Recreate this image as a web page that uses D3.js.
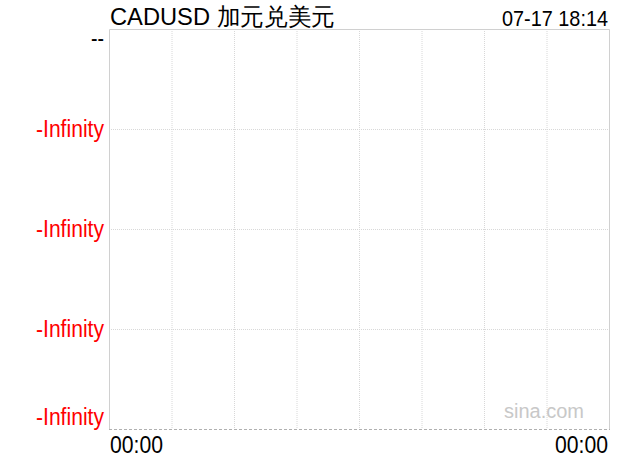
<!DOCTYPE html>
<html><head><meta charset="utf-8">
<script src="https://cdn.jsdelivr.net/npm/d3@7/dist/d3.min.js"></script>
<style>body{margin:0;background:#fff}svg{display:block}</style>
</head><body>
<svg id="c" width="620" height="460"></svg>
<script>
const title = "CADUSD 加元兑美元";
const timestamp = "07-17 18:14";
const xTickLabels = ["00:00", "00:00"];
const yTickLabels = ["--", "-Infinity", "-Infinity", "-Infinity", "-Infinity"];
const yTickColors = ["#000", "#f00", "#f00", "#f00", "#f00"];
const prices = [];
const xDivisions = d3.range(0, 9);
const yDivisions = d3.range(0, 5);

const svg = d3.select("#c");
const L = 109, R = 609, T = 29, B = 429;
const x = d3.scaleLinear().domain([0, 8]).range([L, R]);
const y = d3.scaleLinear().domain([0, 4]).range([T, B]);
const font = "'Liberation Sans',Arial,sans-serif";

// grid
svg.append("g").selectAll("line").data(xDivisions.slice(1, -1)).join("line")
  .attr("x1", d => x(d) + 0.5).attr("x2", d => x(d) + 0.5)
  .attr("y1", T).attr("y2", B)
  .attr("stroke", "#d8d8d8").attr("stroke-dasharray", "1,1");
svg.append("g").selectAll("line").data(yDivisions.slice(1, -1)).join("line")
  .attr("y1", d => y(d) + 0.5).attr("y2", d => y(d) + 0.5)
  .attr("x1", L).attr("x2", R)
  .attr("stroke", "#d8d8d8").attr("stroke-dasharray", "1,1");
// border
svg.append("path").attr("d", `M${L+0.5},${B}V${T+0.5}H${R+0.5}V${B}`)
  .attr("fill", "none").attr("stroke", "#d0d0d0");
svg.append("line").attr("x1", L).attr("x2", R + 1).attr("y1", B + 0.5).attr("y2", B + 0.5)
  .attr("stroke", "#b0b0b0").attr("stroke-dasharray", "3,2");

// watermark
svg.append("text").attr("x", 584).attr("y", 418).attr("text-anchor", "end")
  .attr("font-family", font).attr("font-size", 20)
  .attr("fill", "#c8c8c8").text("sina.com");

// y labels
const yOff = [17, 8, 8, 8, -4];
const yLen = [13, 68, 68, 68, 68];
svg.append("g").selectAll("text").data(yTickLabels).join("text")
  .attr("x", 104).attr("y", (d, i) => y(i) + yOff[i])
  .attr("text-anchor", "end").attr("font-family", font).attr("font-size", 23)
  .attr("textLength", (d, i) => yLen[i]).attr("lengthAdjust", "spacingAndGlyphs")
  .attr("fill", (d, i) => yTickColors[i]).text(d => d);

// x labels
svg.append("g").selectAll("text").data(xTickLabels).join("text")
  .attr("x", (d, i) => i === 0 ? x(0) + 1 : x(8) - 1)
  .attr("y", 453)
  .attr("text-anchor", (d, i) => i === 0 ? "start" : "end")
  .attr("textLength", 53).attr("lengthAdjust", "spacingAndGlyphs")
  .attr("font-family", font).attr("font-size", 23).text(d => d);

// line (empty data)
svg.append("path").datum(prices).attr("fill", "none").attr("stroke", "#1b5fbf")
  .attr("d", d3.line().x((d, i) => x(i)).y(d => y(d)));

// title
svg.append("text").attr("x", 110).attr("y", 25).attr("font-family", font)
  .attr("font-size", 24).attr("textLength", 225).attr("lengthAdjust", "spacingAndGlyphs")
  .text(title);
svg.append("text").attr("x", 608).attr("y", 26).attr("text-anchor", "end")
  .attr("font-family", font).attr("font-size", 22)
  .attr("textLength", 106).attr("lengthAdjust", "spacingAndGlyphs").text(timestamp);
</script>
</body></html>
